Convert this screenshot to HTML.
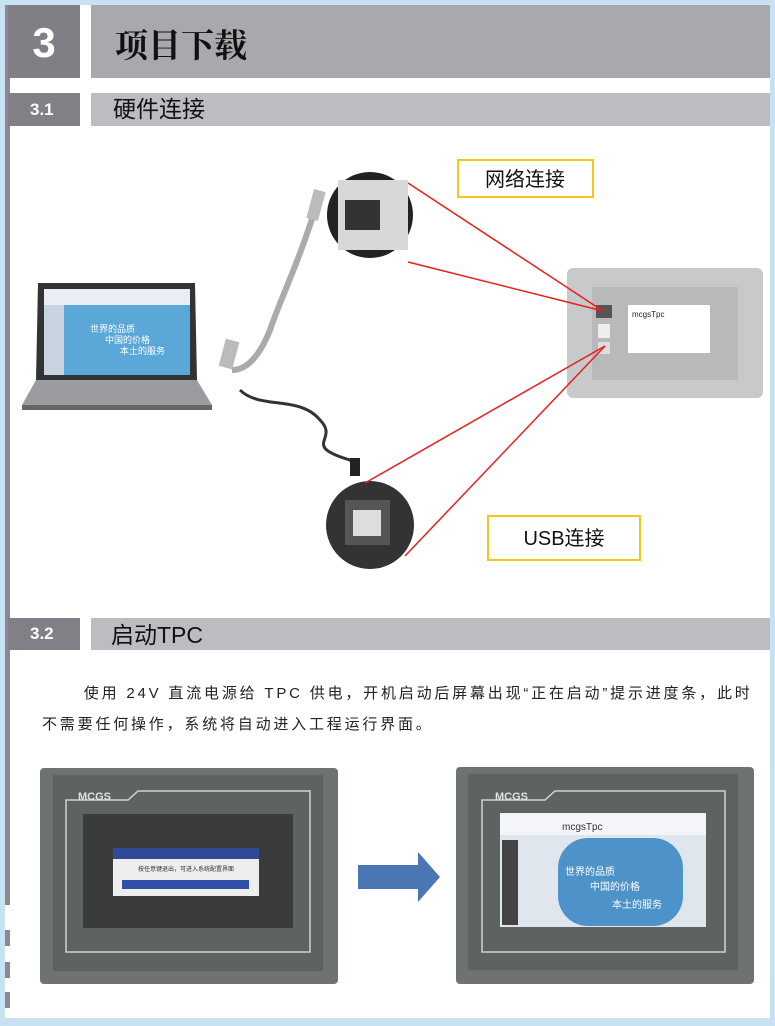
<!DOCTYPE html>
<html><head><meta charset="utf-8"><style>
body{margin:0;width:775px;height:1026px;background:#c8e1f3;position:relative;overflow:hidden;font-family:"Liberation Sans","Noto Sans CJK SC",sans-serif}
.a{position:absolute}
</style></head><body>
<div class="a" style="left:5px;top:5px;width:765px;height:1013px;background:#fff"></div>
<div class="a" style="left:5px;top:5px;width:5px;height:900px;background:#8a8a90"></div>
<div class="a" style="left:5px;top:930px;width:5px;height:16px;background:#8a8a90"></div>
<div class="a" style="left:5px;top:962px;width:5px;height:16px;background:#8a8a90"></div>
<div class="a" style="left:5px;top:992px;width:5px;height:16px;background:#8a8a90"></div>
<div class="a" style="left:8px;top:5px;width:72px;height:73px;background:#7f7f85;color:#fff;font-size:42px;font-weight:bold;text-align:center;line-height:75px">3</div>
<div class="a" style="left:91px;top:5px;width:679px;height:73px;background:#a8a9ad;font-family:'Noto Serif CJK SC',serif;font-weight:bold;font-size:33px;line-height:78px;padding-left:24px;box-sizing:border-box;color:#111">项目下载</div>
<div class="a" style="left:8px;top:93px;width:72px;height:33px;background:#808086;color:#fff;font-size:17px;font-weight:bold;line-height:34px;padding-left:22px;box-sizing:border-box">3.1</div>
<div class="a" style="left:91px;top:93px;width:679px;height:33px;background:#bcbdc1;font-size:23px;line-height:33px;padding-left:22px;box-sizing:border-box;color:#111">硬件连接</div>
<div class="a" style="left:8px;top:618px;width:72px;height:32px;background:#808086;color:#fff;font-size:17px;font-weight:bold;line-height:32px;padding-left:22px;box-sizing:border-box">3.2</div>
<div class="a" style="left:91px;top:618px;width:679px;height:32px;background:#bcbdc1;font-size:23px;line-height:34px;padding-left:20px;box-sizing:border-box;color:#111">启动TPC</div>
<div class="a" style="left:42px;top:678px;width:720px;font-size:15px;line-height:31px;color:#222;white-space:nowrap;letter-spacing:2.8px">&nbsp;&nbsp;&nbsp;&nbsp;&nbsp;&nbsp;使用 24V 直流电源给 TPC 供电，开机启动后屏幕出现“正在启动”提示进度条，此时<br>不需要任何操作，系统将自动进入工程运行界面。</div>

<svg class="a" style="left:0;top:0" width="775" height="1026">
<polygon points="38,283 195,283 197,380 36,380" fill="#333"/>
<rect x="44" y="289" width="146" height="86" fill="#5aa7d8"/>
<rect x="44" y="289" width="146" height="16" fill="#e8eef4"/>
<rect x="44" y="305" width="20" height="70" fill="#c8d4e0"/>
<polygon points="36,380 197,380 212,405 22,405" fill="#9a9ca0"/>
<rect x="22" y="405" width="190" height="5" fill="#666"/>
<text x="90" y="332" font-size="9" fill="#fff">世界的品质</text>
<text x="105" y="343" font-size="9" fill="#fff">中国的价格</text>
<text x="120" y="354" font-size="9" fill="#fff">本土的服务</text>
<path d="M318,200 C300,260 280,300 270,330 C258,360 245,370 232,370" stroke="#aaa" stroke-width="6" fill="none"/>
<rect x="222" y="340" width="14" height="28" fill="#bbb" transform="rotate(15 229 354)"/>
<rect x="310" y="190" width="12" height="30" fill="#bbb" transform="rotate(15 316 205)"/>
<path d="M240,390 C260,410 300,395 320,420 C340,440 300,445 350,460 L358,470" stroke="#333" stroke-width="3" fill="none"/>
<rect x="350" y="458" width="10" height="18" fill="#222"/>
<circle cx="370" cy="215" r="43" fill="#222"/>
<rect x="338" y="180" width="70" height="70" fill="#d8d8d8"/>
<rect x="345" y="200" width="35" height="30" fill="#333"/>
<circle cx="370" cy="525" r="44" fill="#333"/>
<rect x="345" y="500" width="45" height="45" fill="#555"/>
<rect x="353" y="510" width="28" height="26" fill="#ddd"/>
<rect x="567" y="268" width="196" height="130" rx="6" fill="#c8c9cb"/>
<rect x="592" y="287" width="146" height="93" fill="#b8b9bb"/>
<rect x="628" y="305" width="82" height="48" fill="#fff"/>
<text x="632" y="317" font-size="8" fill="#222">mcgsTpc</text>
<rect x="596" y="305" width="16" height="13" fill="#555"/>
<rect x="598" y="324" width="12" height="14" fill="#eee"/>
<rect x="598" y="342" width="12" height="12" fill="#ddd"/>
<g stroke="#e8201c" stroke-width="1.5">
<line x1="408" y1="183" x2="603" y2="311"/><line x1="408" y1="262" x2="603" y2="311"/>
<line x1="365" y1="483" x2="605" y2="346"/><line x1="405" y1="556" x2="605" y2="346"/>
</g>
<rect x="458" y="160" width="135" height="37" fill="#fff" stroke="#f5c518" stroke-width="2"/>
<text x="525" y="186" font-size="20" text-anchor="middle" fill="#111">网络连接</text>
<rect x="488" y="516" width="152" height="44" fill="#fff" stroke="#f5c518" stroke-width="2"/>
<text x="564" y="545" font-size="20" text-anchor="middle" fill="#111">USB连接</text>
<rect x="40" y="768" width="298" height="216" rx="4" fill="#6e7370"/>
<rect x="53" y="775" width="270" height="196" fill="#5c6360"/>
<path d="M66,800 L128,800 L138,791 L310,791 L310,952 L66,952 Z" fill="none" stroke="#cfd3d0" stroke-width="1.5"/>
<text x="78" y="800" font-size="11" font-weight="bold" fill="#e0e0e0">MCGS</text>
<rect x="83" y="814" width="210" height="114" fill="#3a3b3d"/>
<rect x="113" y="848" width="146" height="48" fill="#eee"/>
<rect x="113" y="848" width="146" height="11" fill="#2e4a98"/>
<rect x="122" y="880" width="127" height="9" fill="#3050a8"/>
<text x="186" y="871" font-size="6" text-anchor="middle" fill="#333">按任意键退出，可进入系统配置界面</text>
<polygon points="358,865 418,865 418,852 440,877 418,902 418,889 358,889" fill="#4a77b4"/>
<rect x="456" y="767" width="298" height="217" rx="4" fill="#6e7370"/>
<rect x="468" y="774" width="270" height="196" fill="#5c6360"/>
<path d="M482,800 L545,800 L555,791 L725,791 L725,952 L482,952 Z" fill="none" stroke="#cfd3d0" stroke-width="1.5"/>
<text x="495" y="800" font-size="11" font-weight="bold" fill="#e0e0e0">MCGS</text>
<rect x="500" y="813" width="206" height="114" fill="#dfe6ee"/>
<rect x="500" y="813" width="206" height="22" fill="#f3f5f8"/>
<rect x="558" y="838" width="125" height="88" rx="30" fill="#4d93c9"/>
<rect x="502" y="840" width="16" height="85" fill="#444"/>
<text x="565" y="875" font-size="10" fill="#fff">世界的品质</text>
<text x="590" y="890" font-size="10" fill="#fff">中国的价格</text>
<text x="612" y="908" font-size="10" fill="#fff">本土的服务</text>
<text x="562" y="830" font-size="10" fill="#333">mcgsTpc</text>
</svg>
</body></html>
